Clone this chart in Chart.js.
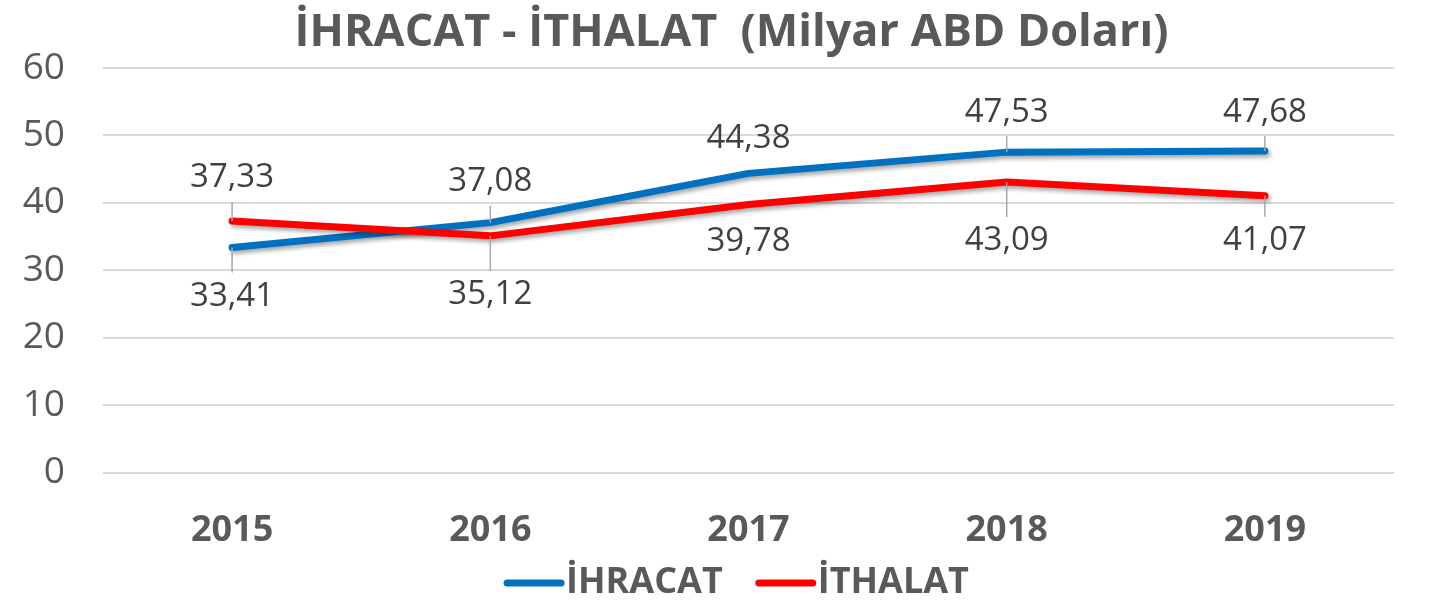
<!DOCTYPE html>
<html>
<head>
<meta charset="utf-8">
<script src="https://cdn.jsdelivr.net/npm/chart.js@4.4.1/dist/chart.umd.min.js"></script>
<style>
  html, body { margin: 0; padding: 0; background: #fff; }
  #wrap { width: 1430px; height: 605px; position: relative; }
</style>
</head>
<body>
<div id="wrap"><canvas id="tradeChart"></canvas></div>
<script>
// chart data
const years = ["2015", "2016", "2017", "2018", "2019"];
const ihracat = [33.41, 37.08, 44.38, 47.53, 47.68];
const ithalat = [37.33, 35.12, 39.78, 43.09, 41.07];
const chartTitle = "İHRACAT - İTHALAT  (Milyar ABD Doları)";

// where each value label sits relative to its point (px, + is below)
const ihracatLabelShift = [49, -41, -35, -40, -39];
const ithalatLabelShift = [-43, 59, 37, 59, 45];

const FONT = "'Open Sans', 'DejaVu Sans', sans-serif";
const GREY = "#595959";

// soft shadow under the lines, like the original
const lineShadow = {
    id: "lineShadow",
    beforeDatasetDraw(chart) {
        const ctx = chart.ctx;
        ctx.save();
        ctx.shadowColor = "rgba(0,0,0,0.35)";
        ctx.shadowBlur = 4;
        ctx.shadowOffsetX = 2;
        ctx.shadowOffsetY = 3;
    },
    afterDatasetDraw(chart) {
        chart.ctx.restore();
    }
};

// value labels with small leader lines
const valueLabels = {
    id: "valueLabels",
    afterDatasetsDraw(chart) {
        const ctx = chart.ctx;
        const shifts = [ihracatLabelShift, ithalatLabelShift];
        chart.data.datasets.forEach((ds, i) => {
            const meta = chart.getDatasetMeta(i);
            meta.data.forEach((pt, j) => {
                const shift = shifts[i][j];
                const ly = pt.y + shift;
                const sign = shift > 0 ? 1 : -1;
                const end = ly - sign * 24;
                if (Math.abs(end - pt.y) > 13) {
                    ctx.save();
                    ctx.strokeStyle = "#a6a6a6";
                    ctx.lineWidth = 1.5;
                    ctx.beginPath();
                    ctx.moveTo(pt.x, pt.y);
                    ctx.lineTo(pt.x, end);
                    ctx.stroke();
                    ctx.restore();
                }
                ctx.save();
                ctx.font = "33px " + FONT;
                ctx.fillStyle = "#404040";
                ctx.textAlign = "center";
                ctx.textBaseline = "middle";
                ctx.fillText(ds.data[j].toFixed(2).replace(".", ","), pt.x, ly);
                ctx.restore();
            });
        });
    }
};

// title and legend drawn by hand, centred a bit right of the canvas like the original
const titleAndLegend = {
    id: "titleAndLegend",
    afterDraw(chart) {
        const ctx = chart.ctx;
        const mid = (chart.chartArea.left + chart.chartArea.right) / 2 - 17;

        ctx.save();
        ctx.font = "bold 45px " + FONT;
        ctx.fillStyle = GREY;
        ctx.textAlign = "center";
        ctx.textBaseline = "middle";
        ctx.fillText(chartTitle, mid, 33);
        ctx.restore();

        const sample = 60, gap = 2, spacing = 33, y = 583;
        ctx.save();
        ctx.font = "bold 36px " + FONT;
        ctx.textBaseline = "middle";
        const items = chart.data.datasets.map(ds => ({
            text: ds.label,
            color: ds.borderColor,
            w: sample + gap + ctx.measureText(ds.label).width
        }));
        const total = items.reduce((s, it) => s + it.w, 0) + spacing * (items.length - 1);
        let x = mid + 5 - total / 2;
        items.forEach(it => {
            ctx.strokeStyle = it.color;
            ctx.lineWidth = 7;
            ctx.lineCap = "round";
            ctx.beginPath();
            ctx.moveTo(x + 3, y);
            ctx.lineTo(x + sample - 3, y);
            ctx.stroke();
            ctx.fillStyle = GREY;
            ctx.fillText(it.text, x + sample + gap, y);
            x += it.w + spacing;
        });
        ctx.restore();
    }
};

const ctx = document.getElementById("tradeChart").getContext("2d");

new Chart(ctx, {
    type: "line",
    data: {
        labels: years,
        datasets: [
            {
                label: "İHRACAT",
                data: ihracat,
                borderColor: "#0070C0",
                backgroundColor: "#0070C0",
                borderWidth: 7,
                borderCapStyle: "round",
                borderJoinStyle: "round",
                pointRadius: 0,
                pointHoverRadius: 0,
                tension: 0,
                order: 1
            },
            {
                label: "İTHALAT",
                data: ithalat,
                borderColor: "#FF0000",
                backgroundColor: "#FF0000",
                borderWidth: 7,
                borderCapStyle: "round",
                borderJoinStyle: "round",
                pointRadius: 0,
                pointHoverRadius: 0,
                tension: 0,
                order: 0
            }
        ]
    },
    options: {
        responsive: true,
        maintainAspectRatio: false,
        animation: false,
        layout: { padding: { left: 10, right: 36, top: 68, bottom: 25 } },
        scales: {
            x: {
                offset: true,
                grid: { display: false },
                border: { display: false },
                ticks: {
                    color: GREY,
                    font: { family: FONT, size: 36, weight: "bold" },
                    padding: 28
                }
            },
            y: {
                min: 0,
                max: 60,
                afterFit: (scale) => { scale.width = 93; },
                ticks: {
                    stepSize: 10,
                    color: GREY,
                    font: { family: FONT, size: 37 },
                    padding: 38
                },
                grid: { color: "#d9d9d9", lineWidth: 2, drawTicks: false },
                border: { display: false }
            }
        },
        plugins: {
            title: { display: false },
            legend: { display: false },
            tooltip: { enabled: false }
        }
    },
    plugins: [lineShadow, valueLabels, titleAndLegend]
});
</script>
</body>
</html>
